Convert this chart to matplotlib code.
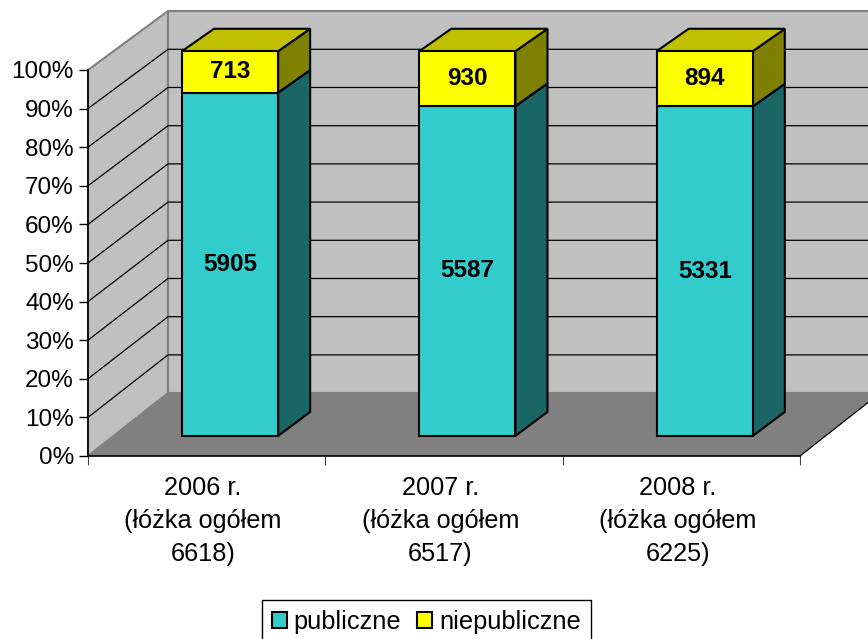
import matplotlib
matplotlib.use("Agg")
import matplotlib.pyplot as plt
from matplotlib.patches import Polygon, Patch
from matplotlib.ticker import PercentFormatter

plt.rcParams["font.family"] = ["Liberation Sans", "DejaVu Sans"]

# values
categories = ["2006 r.\n(łóżka ogółem\n6618)", "2007 r.\n(łóżka ogółem\n6517)", "2008 r.\n(łóżka ogółem\n6225)"]
publiczne = [5905, 5587, 5331]
niepubliczne = [713, 930, 894]
y_ticks = [0, 10, 20, 30, 40, 50, 60, 70, 80, 90, 100]

TEAL = ["#33CCCC", "#1A6666", "#1A6666"]     # front, side, top
YELLOW = ["#FFFF00", "#808000", "#C0C000"]

# oblique 3d look: depth 0 is the front plane of the axes, depth 1 the back wall
DEPTH_X = 0.337
DEPTH_Y = 16.3
SHRINK = 0.0104

BAR_WIDTH = 0.405
BAR_FRONT = 0.32
BAR_BACK = 0.70
BAR_CENTER = 0.485
BAR_DEPTH_X = 0.355   # bars lean a little more than the walls


def project(x, pct, depth, depth_x=DEPTH_X):
    return (x + depth * depth_x, pct * (1 - SHRINK * depth) + depth * DEPTH_Y)


def face(ax, points, color, edge="black", lw=1.5, zorder=3):
    ax.add_patch(Polygon(points, closed=True, facecolor=color, edgecolor=edge,
                         linewidth=lw, joinstyle="miter", clip_on=False, zorder=zorder))


def draw_walls(ax):
    n = len(categories)
    face(ax, [project(0, 0, 0), project(0, 100, 0), project(0, 100, 1), project(0, 0, 1)],
         "#C0C0C0", edge="#808080", zorder=1)
    face(ax, [project(0, 0, 1), project(0, 100, 1), project(n, 100, 1), project(n, 0, 1)],
         "#C0C0C0", edge="#808080", zorder=1)
    face(ax, [project(0, 0, 0), project(n, 0, 0), project(n, 0, 1), project(0, 0, 1)],
         "#808080", edge="none", lw=0, zorder=1.5)
    # the right floor edge and the gridlines on both walls
    xs, ys = zip(project(n, 0, 0), project(n, 0, 1))
    ax.plot(xs, ys, color="black", lw=0.9, clip_on=False, zorder=2)
    for tick in y_ticks[1:-1]:
        xs, ys = zip(project(0, tick, 0), project(0, tick, 1), project(n, tick, 1))
        ax.plot(xs, ys, color="black", lw=0.9, clip_on=False, zorder=2)


def draw_box(ax, center, low, high, colors):
    left = center - BAR_WIDTH / 2
    right = center + BAR_WIDTH / 2
    # side first, then the top, the front goes last so its edges stay on top
    face(ax, [project(right, low, BAR_FRONT, BAR_DEPTH_X), project(right, high, BAR_FRONT, BAR_DEPTH_X),
              project(right, high, BAR_BACK, BAR_DEPTH_X), project(right, low, BAR_BACK, BAR_DEPTH_X)], colors[1])
    face(ax, [project(left, high, BAR_FRONT, BAR_DEPTH_X), project(right, high, BAR_FRONT, BAR_DEPTH_X),
              project(right, high, BAR_BACK, BAR_DEPTH_X), project(left, high, BAR_BACK, BAR_DEPTH_X)], colors[2])
    face(ax, [project(left, low, BAR_FRONT, BAR_DEPTH_X), project(right, low, BAR_FRONT, BAR_DEPTH_X),
              project(right, high, BAR_FRONT, BAR_DEPTH_X), project(left, high, BAR_FRONT, BAR_DEPTH_X)], colors[0])


def draw_label(ax, center, low, high, value):
    x, y = project(center, (low + high) / 2, BAR_FRONT, BAR_DEPTH_X)
    ax.text(x, y, str(value), ha="center", va="center", fontsize=17.5,
            fontweight="bold", color="black", zorder=5)


fig = plt.figure(figsize=(8.68, 6.39), dpi=100)
ax = fig.add_axes([88 / 868, 1 - 456 / 639, 712 / 868, 386 / 639])
ax.patch.set_visible(False)
ax.set_xlim(0, len(categories))
ax.set_ylim(0, 100)

draw_walls(ax)

for i in range(len(categories)):
    total = publiczne[i] + niepubliczne[i]
    split = publiczne[i] / total * 100
    draw_box(ax, i + BAR_CENTER, 0, split, TEAL)
    draw_box(ax, i + BAR_CENTER, split, 100, YELLOW)
    draw_label(ax, i + BAR_CENTER, 0, split, publiczne[i])
    draw_label(ax, i + BAR_CENTER, split, 100, niepubliczne[i])

# axes
for side in ["top", "right"]:
    ax.spines[side].set_visible(False)
for side in ["left", "bottom"]:
    ax.spines[side].set_linewidth(1.2)
    ax.spines[side].set_zorder(2.5)

ax.set_yticks(y_ticks)
ax.yaxis.set_major_formatter(PercentFormatter(100, decimals=0))
ax.tick_params(axis="y", length=6.5, width=1.0, pad=3.6, labelsize=17.5)
ax.set_xticks(range(len(categories) + 1))
ax.set_xticklabels([])
ax.tick_params(axis="x", which="major", length=6.5, width=0.8, color="#404040")
ax.set_xticks([i + 0.485 for i in range(len(categories))], minor=True)
ax.set_xticklabels(categories, minor=True, fontsize=18.2, linespacing=1.48)
ax.tick_params(axis="x", which="minor", length=0, pad=14.5)

handles = [Patch(facecolor=TEAL[0], edgecolor="black", linewidth=1.5, label="publiczne"),
           Patch(facecolor=YELLOW[0], edgecolor="black", linewidth=1.5, label="niepubliczne")]
legend = fig.legend(handles=handles, ncol=2, loc="upper left",
                    bbox_to_anchor=(262 / 868, 1 - 600 / 639), fontsize=18.3,
                    frameon=True, fancybox=False, framealpha=1, edgecolor="black",
                    handlelength=0.6, handleheight=0.6, handletextpad=0.27,
                    columnspacing=0.62, borderaxespad=0, borderpad=0.38)
legend.get_frame().set_linewidth(1.0)

fig.savefig("out.png", dpi=100)
